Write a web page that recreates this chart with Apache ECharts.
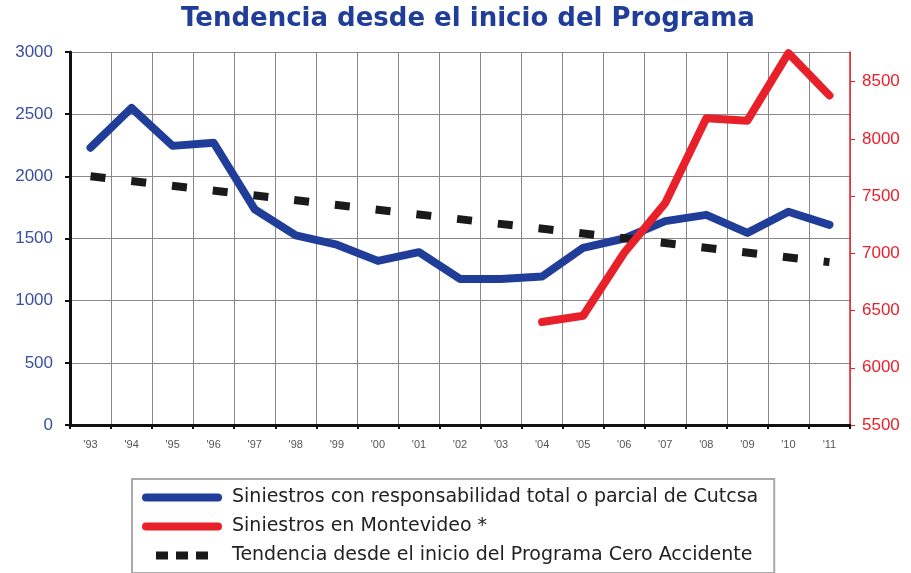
<!DOCTYPE html>
<html>
<head>
<meta charset="utf-8">
<script src="https://cdn.jsdelivr.net/npm/echarts@6/dist/echarts.min.js"></script>
<style>
html, body { margin: 0; padding: 0; background: #fff; }
#chart { width: 911px; height: 573px; }
</style>
</head>
<body>
<div id="chart"></div>
<script>
// data
var years = ["'93", "'94", "'95", "'96", "'97", "'98", "'99", "'00", "'01", "'02",
             "'03", "'04", "'05", "'06", "'07", "'08", "'09", "'10", "'11"];
var cutcsa = [2230, 2550, 2245, 2270, 1735, 1525, 1450, 1320, 1390, 1175,
              1175, 1195, 1425, 1500, 1640, 1690, 1545, 1715, 1610];
var montevideo = [null, null, null, null, null, null, null, null, null, null,
                  null, 6400, 6455, 7005, 7440, 8180, 8160, 8750, 8380];
// trend line: only the two ends, joined
var tendencia = [2000, null, null, null, null, null, null, null, null, null,
                 null, null, null, null, null, null, null, null, 1310];
var rightTicks = [5500, 6000, 6500, 7000, 7500, 8000, 8500];

var names = ['Siniestros con responsabilidad total o parcial de Cutcsa',
             'Siniestros en Montevideo *',
             'Tendencia desde el inicio del Programa Cero Accidente'];

function plain(v) { return String(v); }

// legend icons: a rounded bar and three small blocks
var barIcon = 'path://M4,0H76A4,4,0,0,1,76,8H4A4,4,0,0,1,4,0Z';
var dashIcon = 'path://M0,0H12V8H0Z M20,0H32V8H20Z M40,0H52V8H40Z';

var chart = echarts.init(document.getElementById('chart'));
var option = {
    animation: false,
    title: {
        text: 'Tendencia desde el inicio del Programa',
        left: 176,
        top: 1,
        textStyle: {
            fontFamily: 'DejaVu Sans',
            fontWeight: 'bold',
            fontSize: 26,
            color: '#1f3d99'
        }
    },
    grid: {
        left: 70,
        right: 61,
        top: 52,
        bottom: 148
    },
    legend: {
        orient: 'vertical',
        left: 132,
        top: 479,
        itemWidth: 80,
        itemHeight: 8,
        itemGap: 10,
        padding: [9, 16, 8, 10],
        borderColor: '#aaa',
        borderWidth: 2,
        symbolKeepAspect: true,
        textStyle: {
            fontFamily: 'DejaVu Sans',
            fontSize: 19,
            color: '#222',
            padding: [0, 0, 0, 5]
        },
        data: [
            { name: names[0], icon: barIcon },
            { name: names[1], icon: barIcon },
            { name: names[2], icon: dashIcon }
        ]
    },
    xAxis: [{
        type: 'category',
        boundaryGap: true,
        data: years,
        axisLine: { lineStyle: { color: '#111', width: 3 } },
        axisTick: { show: true, length: 4, lineStyle: { color: '#111', width: 2 } },
        axisLabel: {
            fontFamily: 'Liberation Sans',
            fontSize: 11,
            color: '#555',
            margin: 14
        },
        splitLine: { show: true, lineStyle: { color: '#888', width: 1 } }
    }],
    yAxis: [{
        type: 'value',
        min: 0,
        max: 3000,
        interval: 500,
        axisLine: { show: true, lineStyle: { color: '#111', width: 3 } },
        axisTick: { show: true, length: 5, lineStyle: { color: '#111', width: 2 } },
        axisLabel: {
            fontFamily: 'Liberation Sans',
            fontSize: 17,
            color: '#3a4fa0',
            margin: 17,
            formatter: plain
        },
        splitLine: { show: true, lineStyle: { color: '#888', width: 1 } }
    }, {
        type: 'value',
        min: 5500,
        max: 8760,
        interval: 500,
        position: 'right',
        axisLine: { show: true, lineStyle: { color: '#e8202a', width: 1.5 } },
        axisTick: { show: true, length: 5, customValues: rightTicks, lineStyle: { color: '#e8202a' } },
        axisLabel: {
            fontFamily: 'Liberation Sans',
            fontSize: 17,
            color: '#e8202a',
            margin: 12,
            customValues: rightTicks,
            formatter: plain
        },
        splitLine: { show: false }
    }],
    series: [{
        name: names[0],
        type: 'line',
        data: cutcsa,
        yAxisIndex: 0,
        showSymbol: false,
        symbol: 'none',
        z: 2,
        lineStyle: { color: '#1f3d99', width: 8, cap: 'round', join: 'round' },
        itemStyle: { color: '#1f3d99' }
    }, {
        name: names[1],
        type: 'line',
        data: montevideo,
        yAxisIndex: 1,
        showSymbol: false,
        symbol: 'none',
        z: 4,
        lineStyle: { color: '#e8202a', width: 8, cap: 'round', join: 'round' },
        itemStyle: { color: '#e8202a' }
    }, {
        name: names[2],
        type: 'line',
        data: tendencia,
        yAxisIndex: 0,
        connectNulls: true,
        showSymbol: false,
        symbol: 'none',
        z: 3,
        lineStyle: { color: '#1a1a1a', width: 8, type: [15, 26], cap: 'butt' },
        itemStyle: { color: '#1a1a1a' }
    }]
};
chart.setOption(option);
</script>
</body>
</html>
